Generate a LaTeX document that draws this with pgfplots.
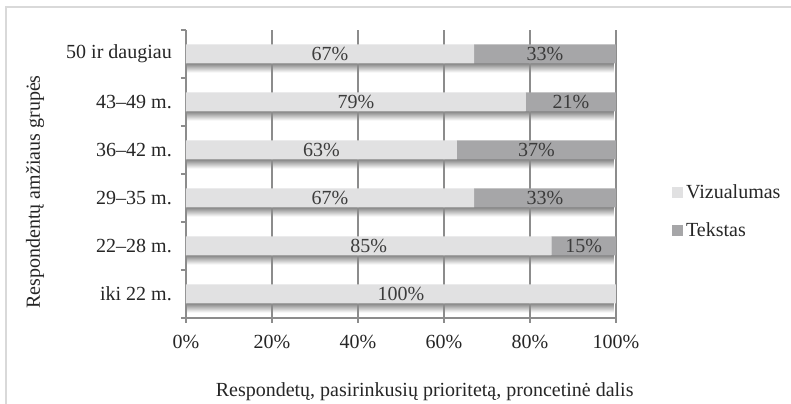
\documentclass[border=0pt]{standalone}
\usepackage{pgfplots}
\pgfplotsset{compat=1.18}
\usepackage{fontspec}
\setmainfont{Liberation Serif}
\definecolor{vizc}{RGB}{225,225,226}
\definecolor{tekc}{RGB}{166,166,168}
\definecolor{axgray}{RGB}{140,140,140}
\definecolor{framec}{RGB}{217,217,217}
\definecolor{txt}{RGB}{38,38,38}
\definecolor{shadc}{RGB}{135,135,135}
\begin{document}
\begin{tikzpicture}[font=\fontsize{12pt}{14pt}\selectfont]
\useasboundingbox (0,0) rectangle (474.6pt,242.4pt);
\fill[white] (0,0) rectangle (474.6pt,242.4pt);
\draw[framec, line width=0.9pt] (3.6pt,-2pt) -- (3.6pt,238.2pt) -- (476pt,238.2pt);
% shadows under the bars
\begin{axis}[
  at={(111.6pt,51.6pt)}, anchor=south west,
  scale only axis, width=258pt, height=172.8pt,
  xmin=0, xmax=100, ymin=-0.5, ymax=5.5,
  hide axis, xbar, bar width=5.4pt, bar shift=-8.4pt,
]
\addplot[xbar, draw=none, top color=shadc, bottom color=white] coordinates {(99.5,0)};
\addplot[xbar, draw=none, top color=shadc, bottom color=white] coordinates {(99.5,1)};
\addplot[xbar, draw=none, top color=shadc, bottom color=white] coordinates {(99.5,2)};
\addplot[xbar, draw=none, top color=shadc, bottom color=white] coordinates {(99.5,3)};
\addplot[xbar, draw=none, top color=shadc, bottom color=white] coordinates {(99.5,4)};
\addplot[xbar, draw=none, top color=shadc, bottom color=white] coordinates {(99.5,5)};
\end{axis}
\begin{axis}[
  at={(111.6pt,51.6pt)}, anchor=south west,
  scale only axis, width=258pt, height=172.8pt,
  xbar stacked, bar width=11.4pt,
  xmin=0, xmax=100, ymin=-0.5, ymax=5.5,
  /pgf/number format/assume math mode=true,
  xtick={0,20,40,60,80,100},
  xticklabel={\pgfmathprintnumber{\tick}\%},
  ytick={0,1,2,3,4,5},
  yticklabels={iki 22 m.,22--28 m.,29--35 m.,36--42 m.,43--49 m.,50 ir daugiau},
  minor ytick={-0.5,0.5,1.5,2.5,3.5,4.5,5.5},
  axis lines*=left,
  axis line style={draw=axgray, line width=0.9pt, -},
  xmajorgrids,
  grid style={axgray, line width=0.8pt},
  tick align=outside, major tick length=3pt, minor tick length=3pt,
  every major y tick/.style={draw=none},
  every minor y tick/.style={draw=axgray, line width=0.9pt},
  every major x tick/.style={draw=axgray, line width=0.9pt},
  tick label style={text=txt},
  yticklabel style={xshift=-2pt},
  xticklabel style={yshift=-3.5pt},
  xlabel={Respondetų, pasirinkusių prioritetą, proncetinė dalis},
  ylabel={Respondentų amžiaus grupės},
  xlabel style={at={(axis description cs:0.555,-0.257)}, anchor=center, text=txt},
  ylabel style={at={(axis description cs:-0.351,0.4375)}, anchor=center, text=txt},
  legend style={at={(axis description cs:1.129,0.37)}, anchor=west, draw=none, fill=none,
    row sep=9pt, inner sep=0pt, text=txt},
  legend cell align=left,
  legend image code/.code={\fill[#1,draw=none] (0pt,-3.3pt) rectangle (6.6pt,3.3pt);},
  point meta=explicit symbolic,
  nodes near coords={\pgfplotspointmeta},
  every node near coord/.append style={anchor=center, text=txt!90},
]
\addplot[fill=vizc, draw=none] coordinates {(100,0) [100\%] (85,1) [85\%] (67,2) [67\%] (63,3) [63\%] (79,4) [79\%] (67,5) [67\%]};
\addplot[fill=tekc, draw=none] coordinates {(0,0) [] (15,1) [15\%] (33,2) [33\%] (37,3) [37\%] (21,4) [21\%] (33,5) [33\%]};
\legend{Vizualumas, Tekstas}
\end{axis}
\end{tikzpicture}
\end{document}
